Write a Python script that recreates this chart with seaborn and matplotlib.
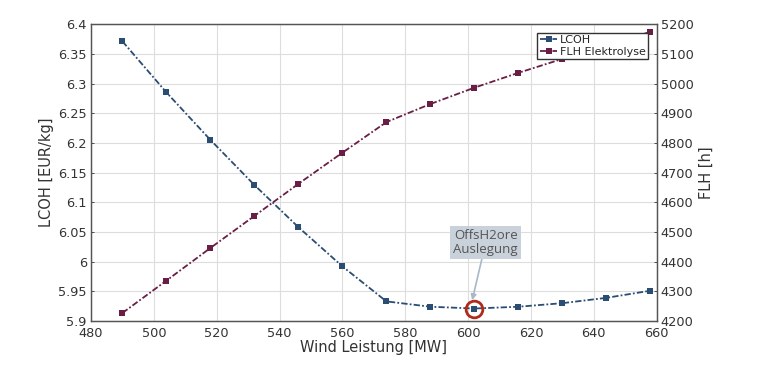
import numpy as np
import pandas as pd
import matplotlib
matplotlib.use("Agg")
import matplotlib.pyplot as plt
import matplotlib.ticker as mticker
import seaborn as sns

wind_mw = [490, 504, 518, 532, 546, 560, 574, 588, 602, 616, 630, 644, 658]
lcoh = [6.371, 6.285, 6.205, 6.129, 6.058, 5.992, 5.933, 5.924, 5.921, 5.924, 5.930, 5.939, 5.951]
flh = [4227, 4336, 4446, 4554, 4662, 4767, 4870, 4931, 4986, 5036, 5083, 5128, 5174]

df = pd.DataFrame({"Wind": wind_mw, "LCOH": lcoh, "FLH": flh})

sns.set_style("whitegrid")
plt.rcParams["font.family"] = ["DejaVu Sans"]

blue = "#2b4d72"
maroon = "#6a1e46"
txt = "#333333"
dashdot = (3.5, 1.2, 1.0, 1.2)

fig = plt.figure(figsize=(7.68, 3.66), dpi=100)
ax = fig.add_axes([0.1185, 0.123, 0.7365, 0.811])
ax2 = ax.twinx()

sns.lineplot(data=df, x="Wind", y="LCOH", ax=ax, color=blue, dashes=False,
             marker="s", markersize=4.5, markeredgewidth=0, linewidth=1.3, label="LCOH", legend=False)
sns.lineplot(data=df, x="Wind", y="FLH", ax=ax2, color=maroon, dashes=False,
             marker="s", markersize=4.5, markeredgewidth=0, linewidth=1.3, label="FLH Elektrolyse", legend=False)
for line in ax.lines + ax2.lines:
    line.set_dashes(dashdot)

ax.set_xlim(480, 660)
ax.set_ylim(5.9, 6.4)
ax2.set_ylim(4200, 5200)
ax.set_xticks(np.arange(480, 661, 20))
ax.set_yticks(np.arange(5.9, 6.401, 0.05))
ax2.set_yticks(np.arange(4200, 5201, 100))
ax.yaxis.set_major_formatter(mticker.FuncFormatter(lambda v, p: f"{round(v, 2):g}"))

ax.grid(True, color="#dddddd", linewidth=0.8)
ax2.grid(False)
for a in (ax, ax2):
    for s in a.spines.values():
        s.set_color("#555555")
        s.set_linewidth(0.9)
    a.tick_params(labelsize=9.3, colors=txt, direction="in", length=2, width=0.6, pad=3)
ax.tick_params(axis="x", pad=4.5)

ax.set_xlabel("Wind Leistung [MW]", fontsize=10.5, color=txt, labelpad=0)
ax.set_ylabel("LCOH [EUR/kg]", fontsize=10.5, color=txt, labelpad=3)
ax2.set_ylabel("FLH [h]", fontsize=10.5, color=txt, labelpad=4)

# highlight design point
ax.plot([602], [5.921], marker="o", markersize=12, markerfacecolor="none",
        markeredgecolor="#b02a1a", markeredgewidth=2, zorder=5)
ax.annotate("OffsH2ore\nAuslegung", xy=(601.3, 5.935), xytext=(605.6, 6.032),
            ha="center", va="center", fontsize=9.5, color="#555555", family="Open Sans",
            linespacing=1.05,
            bbox=dict(boxstyle="square,pad=0.25", fc="#c9d1db", ec="none"),
            arrowprops=dict(arrowstyle="-|>", color="#a9b8c8", lw=1.2, shrinkA=0, shrinkB=0,
                            mutation_scale=8))

h1, l1 = ax.get_legend_handles_labels()
h2, l2 = ax2.get_legend_handles_labels()
for h in h1 + h2:
    h.set_dashes(dashdot)
ax2.legend(h1 + h2, l1 + l2, loc="upper right", fontsize=8, frameon=True, fancybox=False,
           edgecolor="#333333", framealpha=1, borderpad=0.2, handlelength=1.6,
           handletextpad=0.2, labelspacing=0.15, borderaxespad=0.8)

fig.savefig("out.png", dpi=100)
